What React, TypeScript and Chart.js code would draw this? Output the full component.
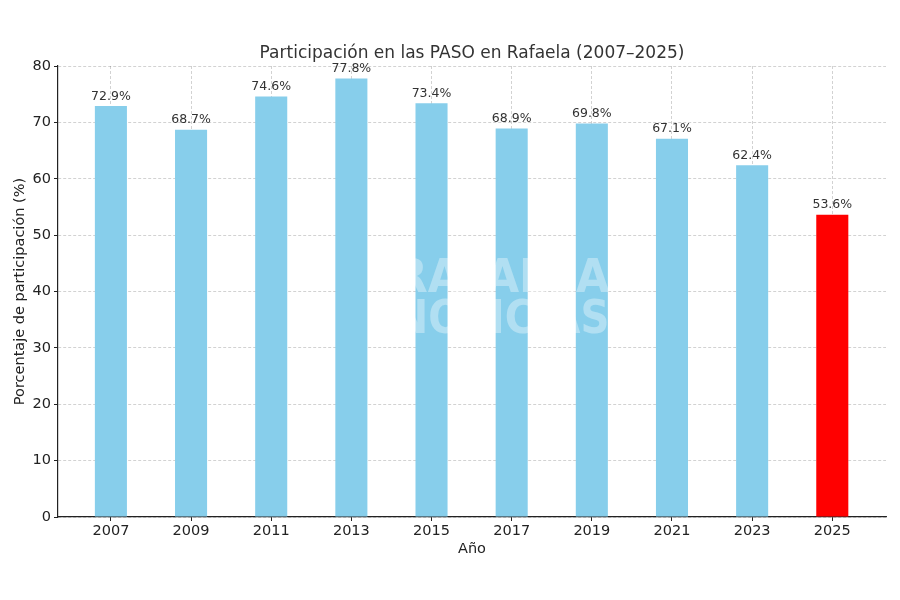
import React, { useEffect, useRef } from "react";
import { Chart, registerables } from "chart.js";

Chart.register(...registerables);

const years = ["2007", "2009", "2011", "2013", "2015", "2017", "2019", "2021", "2023", "2025"];
const participation = [72.9, 68.7, 74.6, 77.8, 73.4, 68.9, 69.8, 67.1, 62.4, 53.6];
const barColors = ["#87CEEB", "#87CEEB", "#87CEEB", "#87CEEB", "#87CEEB", "#87CEEB", "#87CEEB", "#87CEEB", "#87CEEB", "#FF0000"];
const yTicks = [0, 10, 20, 30, 40, 50, 60, 70, 80];
const titleText = "Participación en las PASO en Rafaela (2007–2025)";
const xTitle = "Año";
const yTitle = "Porcentaje de participación (%)";
const watermarkLines = ["RAFAELA", "NOTICIAS"];

const FONT = "'DejaVu Sans', sans-serif";

export default function App() {
  const ref = useRef<HTMLCanvasElement | null>(null);

  useEffect(() => {
    const canvas = ref.current;
    if (!canvas) return;

    const overlay = {
      id: "overlay",
      afterDatasetsDraw(chart: any) {
        const ctx = chart.ctx;
        const meta = chart.getDatasetMeta(0);
        ctx.save();
        // watermark
        const ca = chart.chartArea;
        const cx = (ca.left + ca.right) / 2 + 30;
        const cy = (ca.top + ca.bottom) / 2;
        ctx.fillStyle = "rgba(255,255,255,0.35)";
        ctx.font = `bold 46px ${FONT}`;
        ctx.textAlign = "center";
        ctx.textBaseline = "middle";
        ctx.fillText(watermarkLines[0], cx, cy - 11, 215);
        ctx.fillText(watermarkLines[1], cx, cy + 30, 215);
        // value labels
        ctx.font = `12.5px ${FONT}`;
        ctx.fillStyle = "#333333";
        ctx.textAlign = "center";
        ctx.textBaseline = "bottom";
        meta.data.forEach((el: any, i: number) => {
          ctx.fillText(participation[i].toFixed(1) + "%", el.x, el.y - 3.5);
        });
        ctx.restore();
      },
      afterDraw(chart: any) {
        const ctx = chart.ctx;
        const ca = chart.chartArea;
        ctx.save();
        ctx.font = `17px ${FONT}`;
        ctx.fillStyle = "#333333";
        ctx.textAlign = "center";
        ctx.textBaseline = "middle";
        ctx.fillText(titleText, (ca.left + ca.right) / 2, ca.top - 12);
        ctx.restore();
      },
    };

    const gridOpts = {
      offset: false,
      color: "rgba(0,0,0,0.2)",
      tickColor: "#222222",
      tickLength: 4,
      tickBorderDash: [],
      lineWidth: 0.9,
      tickWidth: 1,
    };

    const chart = new Chart(canvas, {
      type: "bar",
      data: {
        datasets: [
          {
            data: participation.map((v, i) => ({ x: i, y: v })),
            backgroundColor: barColors,
            borderWidth: 0,
            categoryPercentage: 1,
            barPercentage: 0.4,
          },
        ],
      },
      options: {
        animation: false,
        responsive: false,
        layout: { padding: { top: 66, right: 14, left: 0, bottom: 0 } },
        plugins: {
          legend: { display: false },
          tooltip: { enabled: false },
          title: { display: false },
        },
        scales: {
          x: {
            type: "linear",
            offset: false,
            min: -0.66,
            max: 9.67,
            z: 1,
            afterBuildTicks: (scale: any) => {
              scale.ticks = years.map((_, i) => ({ value: i }));
            },
            afterFit: (scale: any) => {
              scale.height = 83;
            },
            ticks: {
              autoSkip: false,
              maxRotation: 0,
              padding: 2,
              color: "#222222",
              font: { family: FONT, size: 14.5 },
              callback: (v: any) => years[Math.round(Number(v))] ?? "",
            },
            grid: gridOpts,
            border: { display: true, color: "#222222", width: 1.2, dash: [3, 2] },
            title: {
              display: true,
              text: xTitle,
              color: "#222222",
              font: { family: FONT, size: 14.5 },
              padding: { top: 4, bottom: 42 },
            },
          },
          y: {
            type: "linear",
            min: 0,
            max: 80,
            z: 1,
            afterBuildTicks: (scale: any) => {
              scale.ticks = yTicks.map((v) => ({ value: v }));
            },
            afterFit: (scale: any) => {
              scale.width = 58;
            },
            ticks: {
              padding: 3,
              color: "#222222",
              font: { family: FONT, size: 14.5 },
            },
            grid: gridOpts,
            border: { display: true, color: "#222222", width: 1.2, dash: [3, 2] },
            title: {
              display: true,
              text: yTitle,
              color: "#222222",
              font: { family: FONT, size: 14.5 },
              padding: { top: 12, bottom: 4 },
            },
          },
        },
      },
      plugins: [overlay],
    });

    return () => chart.destroy();
  }, []);

  return (
    <div style={{ position: "fixed", left: 0, top: 0, width: 900, height: 600, background: "#ffffff" }}>
      <canvas ref={ref} width={900} height={600} />
    </div>
  );
}
